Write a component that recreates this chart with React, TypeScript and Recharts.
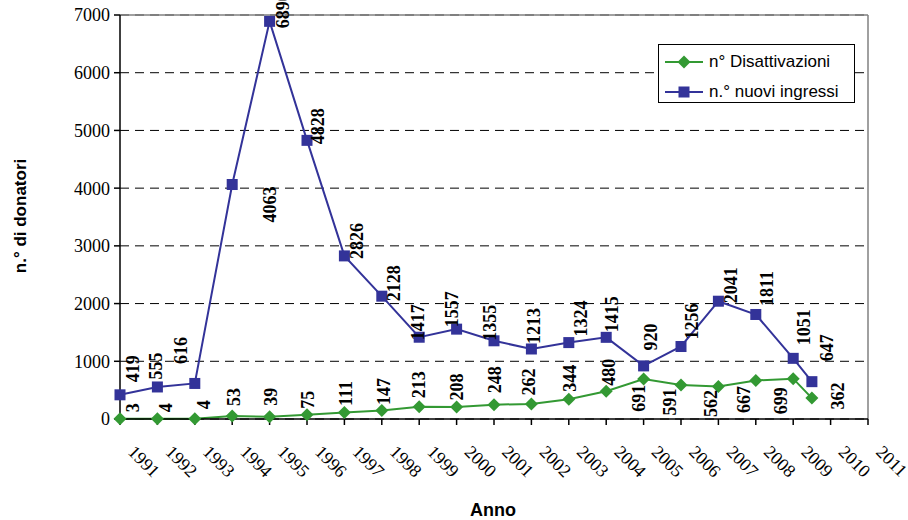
import React from 'react';
import { LineChart, Line, XAxis, YAxis, CartesianGrid, ReferenceLine, LabelList, Label } from 'recharts';

// ---- data ----
const years = [1991, 1992, 1993, 1994, 1995, 1996, 1997, 1998, 1999, 2000, 2001, 2002, 2003, 2004, 2005, 2006, 2007, 2008, 2009, 2009.5];
const disattivazioni = [3, 4, 4, 53, 39, 75, 111, 147, 213, 208, 248, 262, 344, 480, 691, 591, 562, 667, 699, 362];
const nuoviIngressi = [419, 555, 616, 4063, 6890, 4828, 2826, 2128, 1417, 1557, 1355, 1213, 1324, 1415, 920, 1256, 2041, 1811, 1051, 647];
const xTicks = [1991, 1992, 1993, 1994, 1995, 1996, 1997, 1998, 1999, 2000, 2001, 2002, 2003, 2004, 2005, 2006, 2007, 2008, 2009, 2010, 2011];
const yTicks = [0, 1000, 2000, 3000, 4000, 5000, 6000, 7000];

const data = years.map((anno, i) => ({ anno, dis: disattivazioni[i], ing: nuoviIngressi[i] }));

// ---- layout: hand-placed label nudges (pixels, relative to each point) ----
const blueNudge = [[13, -26], [-1, -21], [-14, -33], [38, 20], [13, -11], [11, -14], [13, -15], [12, -13], [-1, -15], [-5, -20], [-4, -18], [3, -23], [12, -24], [6, -23], [7, -29], [11, -25], [13, -16], [11, -26], [11, -31], [15, -34]];
const greenNudge = [[13, -11], [9, -11], [9, -14], [2, -19], [1, -20], [1, -15], [2, -19], [2, -19], [0, -22], [0, -20], [1, -25], [-2, -22], [1, -21], [3, -19], [-5, 19], [-11, 17], [-7, 17], [-12, 19], [-12, 22], [26, -2]];

const BLUE = '#333399';
const GREEN = '#339933';
const SERIF = '"Liberation Serif", "Times New Roman", serif';
const SANS = '"Liberation Sans", Arial, sans-serif';

const makeLabel = (nudge: number[][]) => (props: any) => {
  const { x, y, value, index } = props;
  const n = nudge[index] || [0, -20];
  const cx = x + n[0];
  const cy = y + n[1];
  return (
    <text
      x={cx}
      y={cy}
      textAnchor="middle"
      dominantBaseline="central"
      transform={`rotate(-90, ${cx}, ${cy})`}
      fontFamily={SERIF}
      fontSize={18}
      fontWeight="bold"
      fill="#000"
    >
      {value}
    </text>
  );
};

const SquareDot = (props: any) => {
  const { cx, cy, index } = props;
  if (cx == null || cy == null) return <g key={`s${index}`} />;
  return <rect key={`s${index}`} x={cx - 5.5} y={cy - 5.5} width={11} height={11} fill={BLUE} />;
};

const DiamondDot = (props: any) => {
  const { cx, cy, index } = props;
  if (cx == null || cy == null) return <g key={`d${index}`} />;
  return <polygon key={`d${index}`} points={`${cx},${cy - 6.5} ${cx + 6.5},${cy} ${cx},${cy + 6.5} ${cx - 6.5},${cy}`} fill={GREEN} />;
};

const XTick = (props: any) => {
  const { x, y, payload } = props;
  const tx = x + 7;
  const ty = y + 28;
  return (
    <text x={tx} y={ty} transform={`rotate(45, ${tx}, ${ty})`} textAnchor="start" fontFamily={SERIF} fontSize={18} fill="#000">
      {payload.value}
    </text>
  );
};

const legendItems = [
  { name: 'n° Disattivazioni', color: GREEN, shape: 'diamond' },
  { name: 'n.° nuovi ingressi', color: BLUE, shape: 'square' },
];

const LegendBox = () => (
  <div
    style={{
      position: 'absolute',
      left: 658,
      top: 44,
      border: '1px solid #000',
      background: '#fff',
      width: 197,
      height: 59,
      boxSizing: 'border-box',
      paddingTop: 2,
      fontFamily: SANS,
      fontSize: 17,
      color: '#000',
    }}
  >
    {legendItems.map((it) => (
      <div key={it.name} style={{ height: 30, display: 'flex', alignItems: 'center', whiteSpace: 'nowrap' }}>
        <svg width={48} height={16} style={{ marginLeft: 2, display: 'block' }}>
          <line x1={4} y1={8} x2={42} y2={8} stroke={it.color} strokeWidth={2} />
          {it.shape === 'square' ? (
            <rect x={17.5} y={2.5} width={11} height={11} fill={it.color} />
          ) : (
            <polygon points="23,1.5 29.5,8 23,14.5 16.5,8" fill={it.color} />
          )}
        </svg>
        <span>{it.name}</span>
      </div>
    ))}
  </div>
);

export default function App() {
  return (
    <div style={{ position: 'absolute', left: 0, top: 0, width: 908, height: 520, background: '#fff' }}>
      <LineChart width={908} height={520} data={data} margin={{ top: 15, right: 40, bottom: 0, left: 0 }}>
        <CartesianGrid vertical={false} stroke="#000" strokeDasharray="9 6" strokeWidth={1} />
        <XAxis
          dataKey="anno"
          type="number"
          domain={[1991, 2011]}
          ticks={xTicks}
          interval={0}
          height={101}
          tickSize={6}
          tickMargin={0}
          axisLine={{ stroke: '#000', strokeWidth: 1.5 }}
          tickLine={{ stroke: '#000', strokeWidth: 1.5 }}
          tick={<XTick />}
          allowDecimals={false}
        >
          <Label
            content={() => (
              <text x={493} y={510} textAnchor="middle" dominantBaseline="central" fontFamily={SANS} fontWeight="bold" fontSize={18} fill="#000">
                Anno
              </text>
            )}
          />
        </XAxis>
        <YAxis
          type="number"
          domain={[0, 7000]}
          ticks={yTicks}
          interval={0}
          width={120}
          tickSize={6}
          tickMargin={4}
          axisLine={{ stroke: '#000', strokeWidth: 1.5 }}
          tickLine={{ stroke: '#000', strokeWidth: 1.5 }}
          tick={{ fontFamily: SERIF, fontSize: 18, fill: '#000' }}
        >
          <Label
            content={() => (
              <text
                x={20}
                y={216}
                textAnchor="middle"
                dominantBaseline="central"
                transform="rotate(-90, 20, 216)"
                fontFamily={SANS}
                fontWeight="bold"
                fontSize={17}
                fill="#000"
              >
                n.° di donatori
              </text>
            )}
          />
        </YAxis>
        <ReferenceLine y={7000} stroke="#808080" strokeWidth={1.5} />
        <ReferenceLine x={2011} stroke="#808080" strokeWidth={1.5} />
        <Line
          dataKey="dis"
          name="n° Disattivazioni"
          stroke={GREEN}
          strokeWidth={2}
          dot={<DiamondDot />}
          activeDot={false}
          isAnimationActive={false}
        >
          <LabelList dataKey="dis" content={makeLabel(greenNudge)} />
        </Line>
        <Line
          dataKey="ing"
          name="n.° nuovi ingressi"
          stroke={BLUE}
          strokeWidth={2}
          dot={<SquareDot />}
          activeDot={false}
          isAnimationActive={false}
        >
          <LabelList dataKey="ing" content={makeLabel(blueNudge)} />
        </Line>
      </LineChart>
      <LegendBox />
    </div>
  );
}
